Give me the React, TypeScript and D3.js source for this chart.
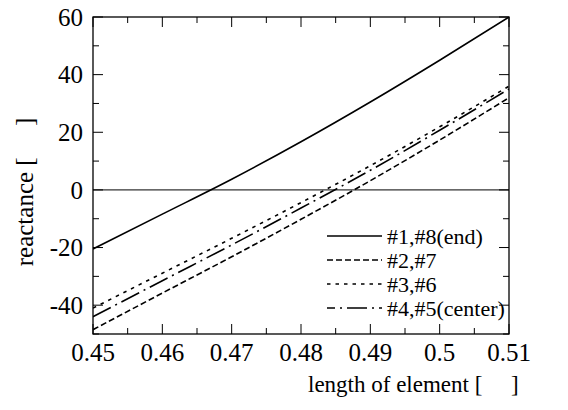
import React from "react";
import * as d3 from "d3";

const xValues = [0.45, 0.46, 0.47, 0.48, 0.49, 0.5, 0.51];
const seriesEnd = [-20.5, -8.4, 3.7, 16.7, 30.5, 45, 60];
const series27 = [-48.5, -35.8, -23.2, -10.2, 3.2, 17.3, 32];
const series36 = [-41, -28.9, -16.8, -4.4, 8.4, 21.9, 36];
const series45 = [-44, -31.5, -19.1, -6.3, 6.8, 20.7, 35];
const seriesNames = ["#1,#8(end)", "#2,#7", "#3,#6", "#4,#5(center)"];
const xTicks = [0.45, 0.46, 0.47, 0.48, 0.49, 0.5, 0.51];
const yTicks = [-40, -20, 0, 20, 40, 60];

const W = 568, H = 410;
const L = 93, R = 509, T = 17, B = 334;
const FONT = '"Liberation Serif", "DejaVu Serif", serif';

export default function App() {
  const x = d3.scaleLinear().domain([0.45, 0.51]).range([L, R]);
  const y = d3.scaleLinear().domain([-50, 60]).range([B, T]);
  const allSeries = [seriesEnd, series27, series36, series45];
  const dashes = ["none", "6,3", "3.5,5", "20,5,2,5"];
  const legendOffset = [0, 0, 0, 12];
  const line = d3
    .line<number>()
    .x((_, i) => x(xValues[i]))
    .y((d) => y(d))
    .curve(d3.curveMonotoneX);

  const xMinor = d3.range(0, 13).map((i) => 0.45 + i * 0.005);
  const yMinor = d3.range(0, 12).map((i) => -50 + i * 10);
  const isMajorX = (v: number) => Math.abs(Math.round(v * 100) - v * 100) < 1e-6;
  const isMajorY = (v: number) => Math.abs(v % 20) < 1e-6;

  const legendY = [236, 260, 284, 308];
  const ts = { fontFamily: FONT };

  return (
    <svg
      width={W}
      height={H}
      style={{ position: "absolute", left: 0, top: 0, display: "block", background: "#fff" }}
    >
      <defs>
        <clipPath id="plot">
          <rect x={L} y={T} width={R - L} height={B - T} />
        </clipPath>
      </defs>
      <line x1={L} x2={R} y1={y(0)} y2={y(0)} stroke="#000" strokeWidth={1} />
      <g clipPath="url(#plot)">
        {allSeries.map((s, i) => (
          <path
            key={i}
            d={line(s) || ""}
            fill="none"
            stroke="#000"
            strokeWidth={1.6}
            strokeDasharray={dashes[i]}
          />
        ))}
      </g>
      <rect x={L} y={T} width={R - L} height={B - T} fill="none" stroke="#000" strokeWidth={1.3} />
      {xMinor.map((v, i) => {
        const len = isMajorX(v) ? 10 : 6;
        return (
          <g key={"xt" + i}>
            <line x1={x(v)} x2={x(v)} y1={B} y2={B - len} stroke="#000" strokeWidth={1} />
            <line x1={x(v)} x2={x(v)} y1={T} y2={T + len} stroke="#000" strokeWidth={1} />
          </g>
        );
      })}
      {yMinor.map((v, i) => {
        const len = isMajorY(v) ? 10 : 6;
        return (
          <g key={"yt" + i}>
            <line x1={L} x2={L + len} y1={y(v)} y2={y(v)} stroke="#000" strokeWidth={1} />
            <line x1={R} x2={R - len} y1={y(v)} y2={y(v)} stroke="#000" strokeWidth={1} />
          </g>
        );
      })}
      {xTicks.map((v, i) => (
        <text key={"xl" + i} x={x(v)} y={361} textAnchor="middle" fontSize={25} style={ts}>
          {d3.format("")(v)}
        </text>
      ))}
      {yTicks.map((v, i) => (
        <text key={"yl" + i} x={L - 10} y={y(v)} dy="0.35em" textAnchor="end" fontSize={25} style={ts}>
          {v}
        </text>
      ))}
      <text x={308} y={392} fontSize={23} style={{ ...ts, whiteSpace: "pre" }}>
        {"length of element [\u00a0\u00a0\u00a0\u00a0\u00a0]"}
      </text>
      <text
        transform={`translate(33, 192) rotate(-90)`}
        textAnchor="middle"
        fontSize={25}
        style={{ ...ts, whiteSpace: "pre" }}
      >
        {"reactance [\u00a0\u00a0\u00a0\u00a0\u00a0]"}
      </text>
      {seriesNames.map((n, i) => (
        <g key={"lg" + i}>
          <line
            x1={327}
            x2={382}
            y1={legendY[i]}
            y2={legendY[i]}
            stroke="#000"
            strokeWidth={1.6}
            strokeDasharray={dashes[i]}
            strokeDashoffset={legendOffset[i]}
          />
          <text x={387} y={legendY[i]} dy="0.35em" fontSize={22} style={ts}>
            {n}
          </text>
        </g>
      ))}
    </svg>
  );
}
